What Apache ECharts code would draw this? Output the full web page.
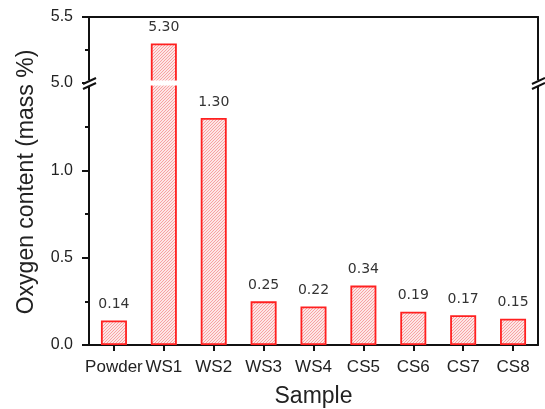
<!DOCTYPE html>
<html lang="en">
<head>
    <meta charset="UTF-8">
    <title>Oxygen content</title>
    <style type="text/css">
        html, body { margin: 0; padding: 0; background: #fff; }
        #main { width: 545px; height: 409px; }
    </style>
</head>
<body>
    <div id="main"></div>
<script src="https://cdn.jsdelivr.net/npm/echarts@6/dist/echarts.min.js"></script>
<script type="text/javascript">
    // data
    var samples = ['Powder', 'WS1', 'WS2', 'WS3', 'WS4', 'CS5', 'CS6', 'CS7', 'CS8'];
    var oxygen = [0.14, 5.30, 1.30, 0.25, 0.22, 0.34, 0.19, 0.17, 0.15];
    var lowerTicks = [0.0, 0.5, 1.0];   // lower part of the broken axis
    var upperTicks = [5.0, 5.5];        // upper part

    var LOWER_MAX = 1.5, UPPER_MIN = 5.0;

    // layout
    var L = 89, R = 538, TOP = 17, BRK = 83, BOT = 345;

    // hatch fill for the bars
    var hatch = document.createElement('canvas');
    hatch.width = 3; hatch.height = 3;
    var ctx = hatch.getContext('2d');
    ctx.fillStyle = '#fde6e6';
    ctx.fillRect(0, 0, 3, 3);
    ctx.strokeStyle = '#f7a2a2';
    ctx.lineWidth = 1;
    ctx.beginPath();
    ctx.moveTo(0, 3); ctx.lineTo(3, 0);
    ctx.moveTo(-1, 1); ctx.lineTo(1, -1);
    ctx.moveTo(2, 4); ctx.lineTo(4, 2);
    ctx.stroke();

    var lowerData = oxygen.map(function (v) {
        return { value: v, label: { show: v <= LOWER_MAX } };
    });
    var upperData = oxygen.map(function (v) {
        return v >= UPPER_MIN ? v : '-';
    });

    var axisLineStyle = { color: '#111', width: 2 };
    var barStyle = {
        color: { image: hatch, repeat: 'repeat' },
        borderColor: '#ff2020',
        borderWidth: 1.8
    };
    var barLabel = {
        show: true,
        position: 'top',
        distance: 9,
        fontFamily: 'DejaVu Sans',
        fontSize: 14,
        color: '#333',
        formatter: function (p) { return p.value.toFixed(2); }
    };

    function plainY(grid, min, max) {
        return {
            type: 'value', gridIndex: grid, position: 'right', min: min, max: max,
            axisLine: { show: true, lineStyle: axisLineStyle },
            axisTick: { show: false }, axisLabel: { show: false }, splitLine: { show: false }
        };
    }

    function breakMarks(x) {
        return [
            { type: 'rect', z: 100, shape: { x: x - 3, y: BRK - 3, width: 6, height: 6 },
              style: { fill: '#fff' } },
            { type: 'line', z: 101, shape: { x1: x - 6, y1: BRK + 1, x2: x + 7, y2: BRK - 5 },
              style: { stroke: '#111', lineWidth: 2 } },
            { type: 'line', z: 101, shape: { x1: x - 6, y1: BRK + 6, x2: x + 7, y2: BRK },
              style: { stroke: '#111', lineWidth: 2 } }
        ];
    }

    var myChart = echarts.init(document.getElementById('main'), null, { renderer: 'canvas' });

    var option = {
        backgroundColor: '#fff',
        animation: false,
        textStyle: { fontFamily: 'Liberation Sans' },
        grid: [
            { left: L, right: 545 - R, top: TOP, height: BRK - TOP, outerBoundsMode: 'none' },
            { left: L, right: 545 - R, top: BRK, bottom: 409 - BOT, outerBoundsMode: 'none' }
        ],
        xAxis: [{
            type: 'category', gridIndex: 0, position: 'top', data: samples,
            axisLine: { show: true, lineStyle: axisLineStyle },
            axisTick: { show: false }, axisLabel: { show: false }
        }, {
            type: 'category', gridIndex: 1, data: samples,
            name: 'Sample', nameLocation: 'middle', nameGap: 40,
            nameTextStyle: { fontSize: 23, color: '#222' },
            axisLine: { show: true, lineStyle: axisLineStyle },
            axisTick: { show: true, alignWithLabel: true, inside: false, length: 6, lineStyle: { width: 2, color: '#111' } },
            axisLabel: { interval: 0, fontSize: 17, color: '#222', margin: 14 }
        }],
        yAxis: [{
            type: 'value', gridIndex: 0, min: UPPER_MIN, max: upperTicks[upperTicks.length - 1],
            interval: upperTicks[1] - upperTicks[0],
            axisLine: { show: true, lineStyle: axisLineStyle },
            axisTick: { show: true, length: 7, lineStyle: { width: 2, color: '#111' } },
            minorTick: { show: true, splitNumber: 2, length: 4, lineStyle: { width: 2, color: '#111' } },
            splitLine: { show: false },
            axisLabel: { fontSize: 16, color: '#222', margin: 16, formatter: function (v) { return v.toFixed(1); } }
        }, {
            type: 'value', gridIndex: 1, min: lowerTicks[0], max: LOWER_MAX,
            interval: lowerTicks[1] - lowerTicks[0],
            axisLine: { show: true, lineStyle: axisLineStyle },
            axisTick: { show: true, length: 7, lineStyle: { width: 2, color: '#111' } },
            minorTick: { show: true, splitNumber: 2, length: 4, lineStyle: { width: 2, color: '#111' } },
            splitLine: { show: false },
            axisLabel: { fontSize: 16, color: '#222', margin: 16, showMaxLabel: false,
                formatter: function (v) { return v.toFixed(1); } }
        },
            plainY(0, UPPER_MIN, upperTicks[upperTicks.length - 1]),
            plainY(1, lowerTicks[0], LOWER_MAX)
        ],
        series: [{
            type: 'bar', xAxisIndex: 0, yAxisIndex: 0, data: upperData,
            barWidth: 26, clip: true, itemStyle: barStyle, label: barLabel
        }, {
            type: 'bar', xAxisIndex: 1, yAxisIndex: 1, data: lowerData,
            barWidth: 26, clip: true, itemStyle: barStyle, label: barLabel
        }],
        graphic: [
            // white gap through the broken bar
            { type: 'rect', z: 99, shape: { x: L + 2, y: BRK - 2.5, width: R - L - 4, height: 5 },
              style: { fill: '#fff' } },
            { type: 'text', z: 100, x: 27, y: 182, rotation: Math.PI / 2,
              style: { text: 'Oxygen content (mass %)', fontSize: 23, fontFamily: 'Liberation Sans',
                       fill: '#222', align: 'center', verticalAlign: 'middle' } }
        ].concat(breakMarks(L), breakMarks(R))
    };

    myChart.setOption(option);
</script>
</body>
</html>
